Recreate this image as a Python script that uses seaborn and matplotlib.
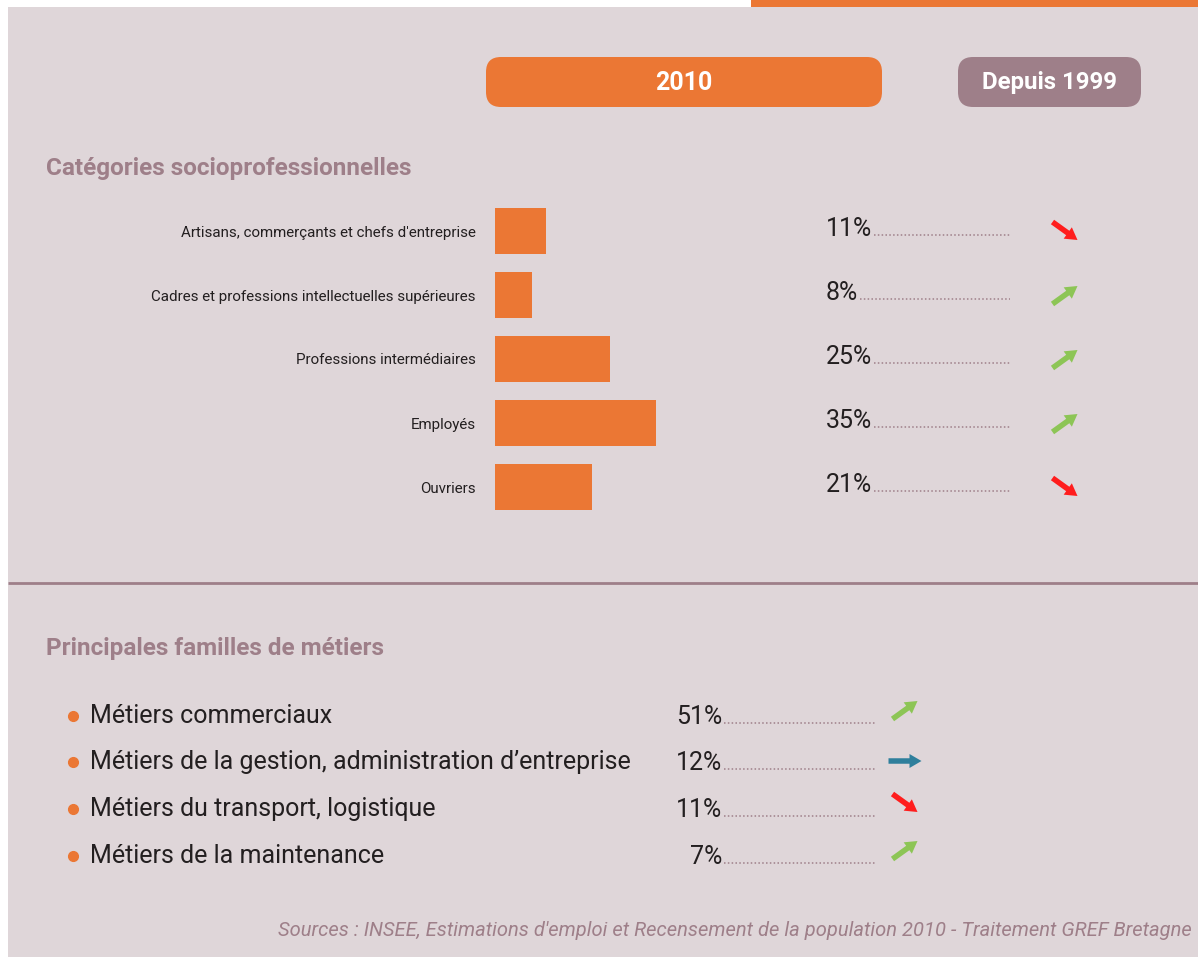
import numpy as np
import pandas as pd
import matplotlib.pyplot as plt
import seaborn as sns
from matplotlib.patches import FancyBboxPatch, FancyArrow, Rectangle

# data
categories = ["Artisans, commerçants et chefs d'entreprise",
              "Cadres et professions intellectuelles supérieures",
              "Professions intermédiaires", "Employés", "Ouvriers"]
shares = [11, 8, 25, 35, 21]
trends = ["down", "up", "up", "up", "down"]

metiers = ["Métiers commerciaux",
           "Métiers de la gestion, administration d’entreprise",
           "Métiers du transport, logistique",
           "Métiers de la maintenance"]
metier_shares = [51, 12, 11, 7]
metier_trends = ["up", "flat", "down", "up"]

sns.set_theme(style="white")
plt.rcParams['font.family'] = ['Roboto', 'DejaVu Sans']

BG = "#dfd6d9"
ORANGE = "#eb7734"
MAUVE = "#9e7f89"
DARK = "#231f20"
ARROW_COL = {"up": "#8dc556", "down": "#ff1d1d", "flat": "#2f7f9c"}

W, H = 1198, 957
fig = plt.figure(figsize=(W / 100, H / 100), dpi=100)
fig.patch.set_facecolor("white")

# overlay in pixel coords
ov = fig.add_axes([0, 0, 1, 1], zorder=0)
ov.set_xlim(0, W)
ov.set_ylim(H, 0)
ov.axis("off")
ov.add_patch(Rectangle((8, 7), W - 8, H - 7, color=BG, lw=0))
ov.add_patch(Rectangle((751, 0), W - 751, 7, color=ORANGE, lw=0))

# header pills
ov.add_patch(FancyBboxPatch((486 + 15, 57 + 15), 396 - 30, 50 - 30,
                            boxstyle="round,pad=15", color=ORANGE, lw=0))
ov.text(684, 83, "2010", color="white", fontsize=18, fontweight="bold",
        ha="center", va="center")
ov.add_patch(FancyBboxPatch((958 + 15, 57 + 15), 183 - 30, 50 - 30,
                            boxstyle="round,pad=15", color=MAUVE, lw=0))
ov.text(1049, 83, "Depuis 1999", color="white", fontsize=17.3, fontweight="bold",
        ha="center", va="center")

# section titles
ov.text(46, 168, "Catégories socioprofessionnelles", color=MAUVE, fontsize=17.5,
        fontweight="bold", ha="left", va="center")
ov.text(46, 649, "Principales familles de métiers", color=MAUVE, fontsize=17.5,
        fontweight="bold", ha="left", va="center")
ov.plot([8, W], [583, 583], color=MAUVE, lw=2, solid_capstyle="butt")

# bar chart
px_per_pct = 4.6
bx0, bx1, by0, by1 = 495, W, 199, 519
ax = fig.add_axes([bx0 / W, 1 - by1 / H, (bx1 - bx0) / W, (by1 - by0) / H], zorder=1)
df = pd.DataFrame({"cat": categories, "share": shares})
sns.barplot(data=df, x="share", y="cat", orient="h", color=ORANGE, width=0.72,
            saturation=1, linewidth=0, ax=ax)
ax.set_xlim(0, (bx1 - bx0) / px_per_pct)
ax.set_ylim(len(categories) - 0.5, -0.5)
ax.set_facecolor("none")
for s in ax.spines.values():
    s.set_visible(False)
ax.set_xlabel("")
ax.set_ylabel("")
ax.set_xticks([])
ax.tick_params(axis="y", length=0, pad=14, labelsize=10.9, labelcolor=DARK)

inv = ov.transData.inverted()
tr = ax.get_yaxis_transform()
top_pct = []
for i, v in enumerate(shares):
    t = ax.text((826 - bx0) / (bx1 - bx0), i + 0.08, f"{v}%", transform=tr,
                fontsize=18, color=DARK, ha="left", va="baseline")
    base = inv.transform(ax.transData.transform((0, i + 0.08)))[1]
    top_pct.append((t, base))

# bottom list
row_y = [716, 762, 809, 856]
bot_pct = []
for y, name, v in zip(row_y, metiers, metier_shares):
    ov.plot(73, y, "o", color=ORANGE, ms=7)
    ov.text(90, y, name, fontsize=18, color=DARK, ha="left", va="center")
    t = ov.text(722, y + 8, f"{v}%", fontsize=18, color=DARK, ha="right",
                va="baseline")
    bot_pct.append((t, y + 8))

ov.text(1192, 931, "Sources : INSEE, Estimations d'emploi et Recensement de la "
        "population 2010 - Traitement GREF Bretagne", fontsize=14.5,
        fontstyle="italic", color=MAUVE, ha="right", va="center")

# leader dots
fig.canvas.draw()
r = fig.canvas.get_renderer()


def leader(t, base, x_end):
    bb = t.get_window_extent(r)
    x0 = inv.transform((bb.x1, bb.y0))[0]
    ov.plot([x0 + 2, x_end], [base - 1, base - 1], color=MAUVE, lw=1.1,
            ls=(0, (1, 1.5)))


def trend_arrow(xc, yc, kind):
    dx = {"up": 25, "down": 25, "flat": 33}[kind]
    dy = {"up": -18, "down": 18, "flat": 0}[kind]
    ov.add_patch(FancyArrow(xc - dx / 2, yc - dy / 2, dx, dy, width=5.5,
                            head_width=14, head_length=12,
                            length_includes_head=True,
                            color=ARROW_COL[kind], lw=0))


for i, ((t, base), k) in enumerate(zip(top_pct, trends)):
    leader(t, base, 1010)
    yc = inv.transform(ax.transData.transform((0, i)))[1]
    trend_arrow(1065, yc, k)

for (t, base), k, y in zip(bot_pct, metier_trends, row_y):
    leader(t, base, 876)
    trend_arrow(905, y - 6 if k != "flat" else y - 1, k)

fig.savefig("out.png", dpi=100, facecolor=fig.get_facecolor())
